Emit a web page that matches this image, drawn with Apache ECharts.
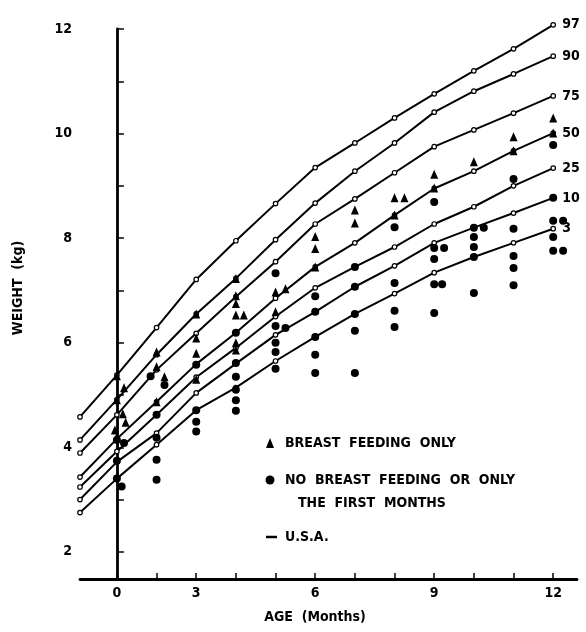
<!DOCTYPE html>
<html><head><meta charset="utf-8">
<script src="https://cdn.jsdelivr.net/npm/echarts@6/dist/echarts.min.js"></script>
<style>html,body{margin:0;padding:0;background:#fff}#c{width:586px;height:632px}</style>
</head><body><div id="c"></div>
<script>
const FONT = '"DejaVu Sans Condensed","Liberation Sans Narrow","DejaVu Sans",sans-serif';

// x axis: equally spaced measurement ages (tick positions), labelled 0,3,6,9,12
const ageTicks = [0,1,2,3,4,5,6,7,8,9,10,11];
const ageTickLabels = ['0','','3','','','6','','','9','','','12'];
const ageLabelTicks = [0,2,5,8,11];
const weightTicks = [2,3,4,5,6,7,8,9,10,11,12];
const weightLabelTicks = [2,4,6,8,10,12];

// U.S.A. percentile curves (first point = birth, at the axis)
const curveAges = [-0.93,0,1,2,3,4,5,6,7,8,9,10,11];
const percentileNames = ['97','90','75','50','25','10','3'];
const p97 = [4.58,5.38,6.29,7.21,7.95,8.66,9.35,9.82,10.30,10.76,11.20,11.62,12.08];
const p90 = [4.14,4.91,5.77,6.55,7.23,7.97,8.67,9.28,9.82,10.41,10.81,11.14,11.48];
const p75 = [3.89,4.62,5.48,6.18,6.88,7.55,8.27,8.75,9.25,9.75,10.07,10.39,10.72];
const p50 = [3.43,4.16,4.87,5.59,6.19,6.85,7.45,7.91,8.44,8.95,9.28,9.67,10.01];
const p25 = [3.24,3.92,4.62,5.34,5.90,6.50,7.05,7.45,7.83,8.27,8.60,9.00,9.34];
const p10 = [3.00,3.72,4.27,5.04,5.60,6.15,6.59,7.07,7.47,7.91,8.20,8.48,8.77];
const p3  = [2.75,3.40,4.05,4.71,5.14,5.65,6.11,6.55,6.94,7.34,7.64,7.91,8.18];

// observations: [age position, weight kg]
const breastFeedingOnly = [
  [0,5.37],[0.18,5.14],[0,4.91],[0.15,4.64],[0.22,4.48],[-0.05,4.33],[0,4.2],
  [1,5.82],[1,5.54],[1.2,5.35],[1,4.87],
  [2,6.55],[2,6.09],[2,5.8],[2,5.3],
  [3,7.23],[3,6.9],[3,6.75],[3,6.53],[3.2,6.53],[3,6.0],[3,5.86],
  [4,6.97],[4.25,7.03],[4,6.59],
  [5,8.03],[5,7.8],[5,7.45],
  [6,8.54],[6,8.29],
  [7,8.77],[7.25,8.77],[7,8.44],
  [8,9.22],[8,8.96],
  [9,9.46],
  [10,9.94],[10,9.67],
  [11,10.3],[11,10.01]
];
const noBreastFeeding = [
  [0,4.14],[0.18,4.08],[0,3.74],[0,3.40],[0.12,3.25],
  [0.85,5.36],[1.2,5.19],[1,4.62],[1,4.18],[1,3.76],[1,3.38],
  [2,5.58],[2,4.71],[2,4.49],[2,4.30],
  [3,6.19],[3,5.61],[3,5.35],[3,5.1],[3,4.9],[3,4.7],
  [4,7.33],[4,6.32],[4.25,6.28],[4,6.0],[4,5.82],[4,5.5],
  [5,6.89],[5,6.59],[5,6.11],[5,5.77],[5,5.42],
  [6,7.45],[6,7.07],[6,6.55],[6,6.23],[6,5.42],
  [7,8.21],[7,7.14],[7,6.61],[7,6.3],
  [8,8.69],[8,7.81],[8.25,7.81],[8,7.6],[8,7.12],[8.2,7.12],[8,6.57],
  [9,8.2],[9.25,8.2],[9,8.02],[9,7.83],[9,7.64],[9,6.95],
  [10,9.13],[10,8.18],[10,7.66],[10,7.43],[10,7.1],
  [11,9.78],[11,8.77],[11,8.33],[11.25,8.33],[11,8.02],[11,7.76],[11.25,7.76]
];

const curves = [p97,p90,p75,p50,p25,p10,p3];

const chart = echarts.init(document.getElementById('c'), null, {renderer:'canvas'});

const series = curves.map((vals, k) => ({
  type: 'line', name: percentileNames[k], clip: false, z: 2,
  data: curveAges.map((a, i) => [a, vals[i]]),
  symbol: 'circle', symbolSize: 4.5, showAllSymbol: true,
  itemStyle: {color: '#fff', borderColor: '#000', borderWidth: 1.2, opacity: 1},
  lineStyle: {color: '#000', width: 2, opacity: 1},
  endLabel: {show: true, formatter: percentileNames[k], distance: 9,
    fontFamily: FONT, fontWeight: 'bold', fontSize: 14, color: '#000'},
  emphasis: {disabled: true}, silent: true, animation: false
}));
series.push({
  type: 'scatter', name: 'BREAST FEEDING ONLY', data: breastFeedingOnly, clip: false, z: 5,
  symbol: 'triangle', symbolSize: [8, 9], itemStyle: {color: '#000', opacity: 1},
  emphasis: {disabled: true}, animation: false
});
series.push({
  type: 'scatter', name: 'NO BREAST FEEDING', data: noBreastFeeding, clip: false, z: 5,
  symbol: 'circle', symbolSize: 8, itemStyle: {color: '#000', opacity: 1},
  emphasis: {disabled: true}, animation: false
});

chart.setOption({
  animation: false,
  backgroundColor: '#fff',
  grid: {left: 80, right: 9, top: 29, bottom: 53, containLabel: false},
  xAxis: {
    type: 'value', min: -0.93, max: 11.6,
    axisLine: {show: true, lineStyle: {color: '#000', width: 2.8}},
    axisTick: {show: true, inside: true, length: 6, lineStyle: {color: '#000', width: 1.5}, customValues: ageTicks},
    axisLabel: {show: true, customValues: ageLabelTicks, formatter: v => ageTickLabels[Math.round(v)],
      margin: 7, fontSize: 14, fontFamily: FONT, fontWeight: 'bold', color: '#000'},
    splitLine: {show: false}
  },
  yAxis: {
    type: 'value', min: 1.48, max: 12,
    axisLine: {show: true, lineStyle: {color: '#000', width: 2.8}},
    axisTick: {show: true, inside: true, length: 7, lineStyle: {color: '#000', width: 1.5}, customValues: weightTicks},
    axisLabel: {show: true, customValues: weightLabelTicks, margin: 8,
      fontSize: 14, fontFamily: FONT, fontWeight: 'bold', color: '#000'},
    splitLine: {show: false}
  },
  graphic: [
    {type: 'text', x: 18, y: 288, rotation: Math.PI/2,
      style: {text: 'WEIGHT  (kg)', fontSize: 14, fontFamily: FONT, fontWeight: 'bold', textAlign: 'center', textVerticalAlign: 'middle', fill: '#000'}},
    {type: 'text', x: 315, y: 617,
      style: {text: 'AGE  (Months)', fontSize: 14, fontFamily: FONT, fontWeight: 'bold', fill: '#000', textAlign: 'center', textVerticalAlign: 'middle'}},
    {type: 'polygon', shape: {points: [[270,438],[266,448],[274,448]]}, style: {fill: '#000'}},
    {type: 'text', x: 285, y: 443,
      style: {text: 'BREAST  FEEDING  ONLY', fontSize: 14, fontFamily: FONT, fontWeight: 'bold', fill: '#000', textVerticalAlign: 'middle'}},
    {type: 'circle', shape: {cx: 270, cy: 480, r: 4.5}, style: {fill: '#000'}},
    {type: 'text', x: 285, y: 480,
      style: {text: 'NO  BREAST  FEEDING  OR  ONLY', fontSize: 14, fontFamily: FONT, fontWeight: 'bold', fill: '#000', textVerticalAlign: 'middle'}},
    {type: 'text', x: 298, y: 503,
      style: {text: 'THE  FIRST  MONTHS', fontSize: 14, fontFamily: FONT, fontWeight: 'bold', fill: '#000', textVerticalAlign: 'middle'}},
    {type: 'line', shape: {x1: 266, y1: 537, x2: 277, y2: 537}, style: {stroke: '#000', lineWidth: 2.5}},
    {type: 'text', x: 285, y: 537,
      style: {text: 'U.S.A.', fontSize: 14, fontFamily: FONT, fontWeight: 'bold', fill: '#000', textVerticalAlign: 'middle'}}
  ],
  series: series
});
</script></body></html>
